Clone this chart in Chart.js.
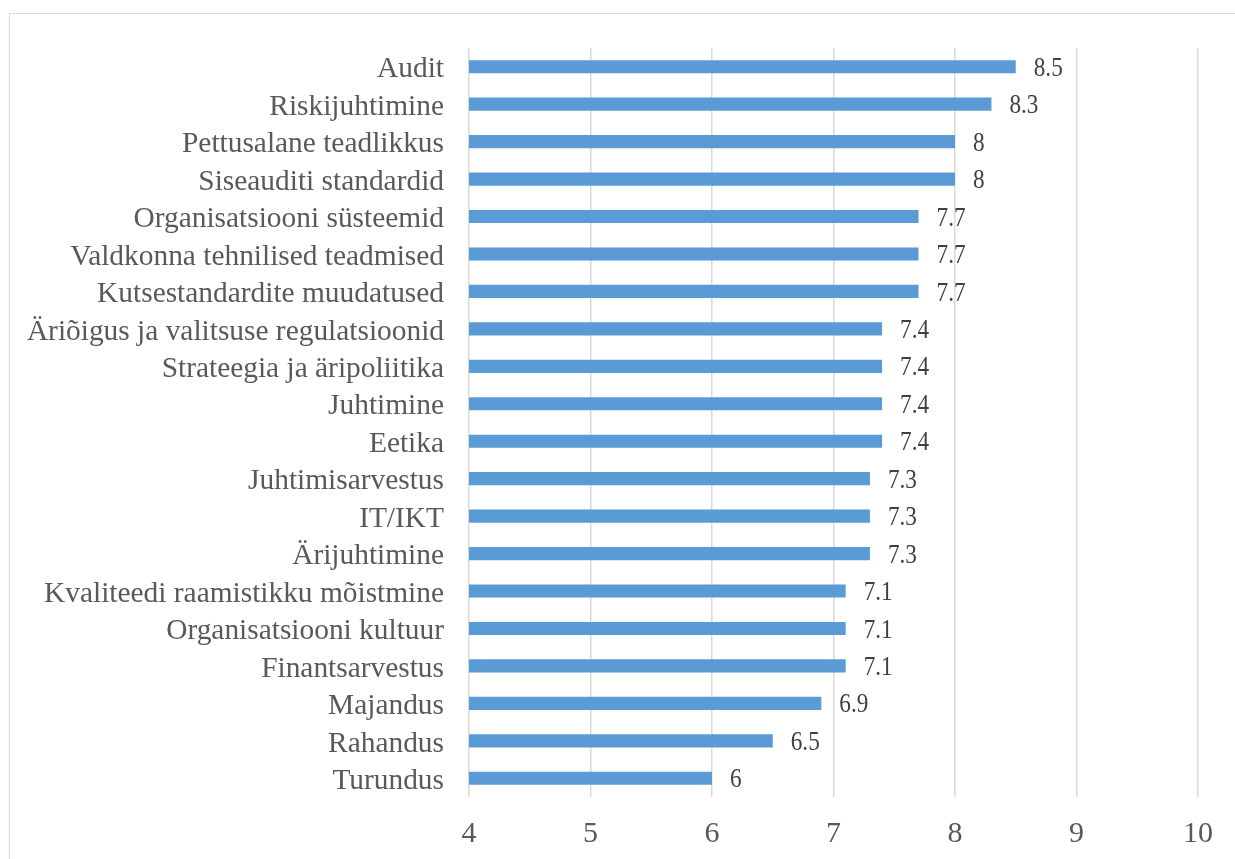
<!DOCTYPE html>
<html>
<head>
<meta charset="utf-8">
<script src="https://cdn.jsdelivr.net/npm/chart.js@4/dist/chart.umd.min.js"></script>
<style>
  html, body { margin: 0; padding: 0; background: #fff; overflow: hidden; }
  #frame { position: absolute; left: 9px; top: 13px; width: 1240px; height: 860px; border: 1.5px solid #d9d9d9; }
  #wrap { position: absolute; left: 0; top: 0; width: 1235px; height: 859px; }
</style>
</head>
<body>
<div id="frame"></div>
<div id="wrap"><canvas id="chart" width="1235" height="859"></canvas></div>
<script>
const categories = [
  'Audit', 'Riskijuhtimine', 'Pettusalane teadlikkus', 'Siseauditi standardid',
  'Organisatsiooni süsteemid', 'Valdkonna tehnilised teadmised', 'Kutsestandardite muudatused',
  'Äriõigus ja valitsuse regulatsioonid', 'Strateegia ja äripoliitika', 'Juhtimine', 'Eetika',
  'Juhtimisarvestus', 'IT/IKT', 'Ärijuhtimine', 'Kvaliteedi raamistikku mõistmine',
  'Organisatsiooni kultuur', 'Finantsarvestus', 'Majandus', 'Rahandus', 'Turundus'
];
const scores = [8.5, 8.3, 8, 8, 7.7, 7.7, 7.7, 7.4, 7.4, 7.4, 7.4, 7.3, 7.3, 7.3, 7.1, 7.1, 7.1, 6.9, 6.5, 6];
const axisMin = 4;
const axisMax = 10;

const serif = "'Liberation Serif', 'Times New Roman', serif";

// value written just past the end of each bar (slightly narrowed glyphs)
const barValues = {
  id: 'barValues',
  afterDatasetsDraw(chart) {
    const ctx = chart.ctx;
    const meta = chart.getDatasetMeta(0);
    const squeeze = 0.86;
    ctx.save();
    ctx.font = '27px ' + serif;
    ctx.fillStyle = '#404040';
    ctx.textAlign = 'left';
    ctx.textBaseline = 'middle';
    meta.data.forEach((bar, i) => {
      ctx.save();
      ctx.translate(bar.x + 18, bar.y + 2);
      ctx.scale(squeeze, 1);
      ctx.fillText(String(scores[i]), 0, 0);
      ctx.restore();
    });
    ctx.restore();
  }
};

new Chart(document.getElementById('chart'), {
  type: 'bar',
  data: {
    labels: categories,
    datasets: [{
      data: scores,
      backgroundColor: '#5b9bd5',
      borderWidth: 0,
      barPercentage: 0.7,
      categoryPercentage: 0.5
    }]
  },
  options: {
    indexAxis: 'y',
    responsive: false,
    animation: false,
    layout: { padding: { top: 48, right: 37, left: 0, bottom: 0 } },
    plugins: { legend: { display: false }, tooltip: { enabled: false } },
    scales: {
      x: {
        min: axisMin,
        max: axisMax,
        ticks: { stepSize: 1, color: '#595959', font: { family: serif, size: 30 }, padding: 19 },
        grid: { color: '#d9d9d9', lineWidth: 1.5, drawTicks: false },
        border: { display: false },
        afterFit(scale) { scale.height = 62; }
      },
      y: {
        ticks: { color: '#595959', font: { family: serif, size: 29.4 }, padding: 25, labelOffset: 3, autoSkip: false },
        grid: { display: false, drawTicks: false },
        border: { display: false },
        afterFit(scale) { scale.width = 469; }
      }
    }
  },
  plugins: [barValues]
});
</script>
</body>
</html>
